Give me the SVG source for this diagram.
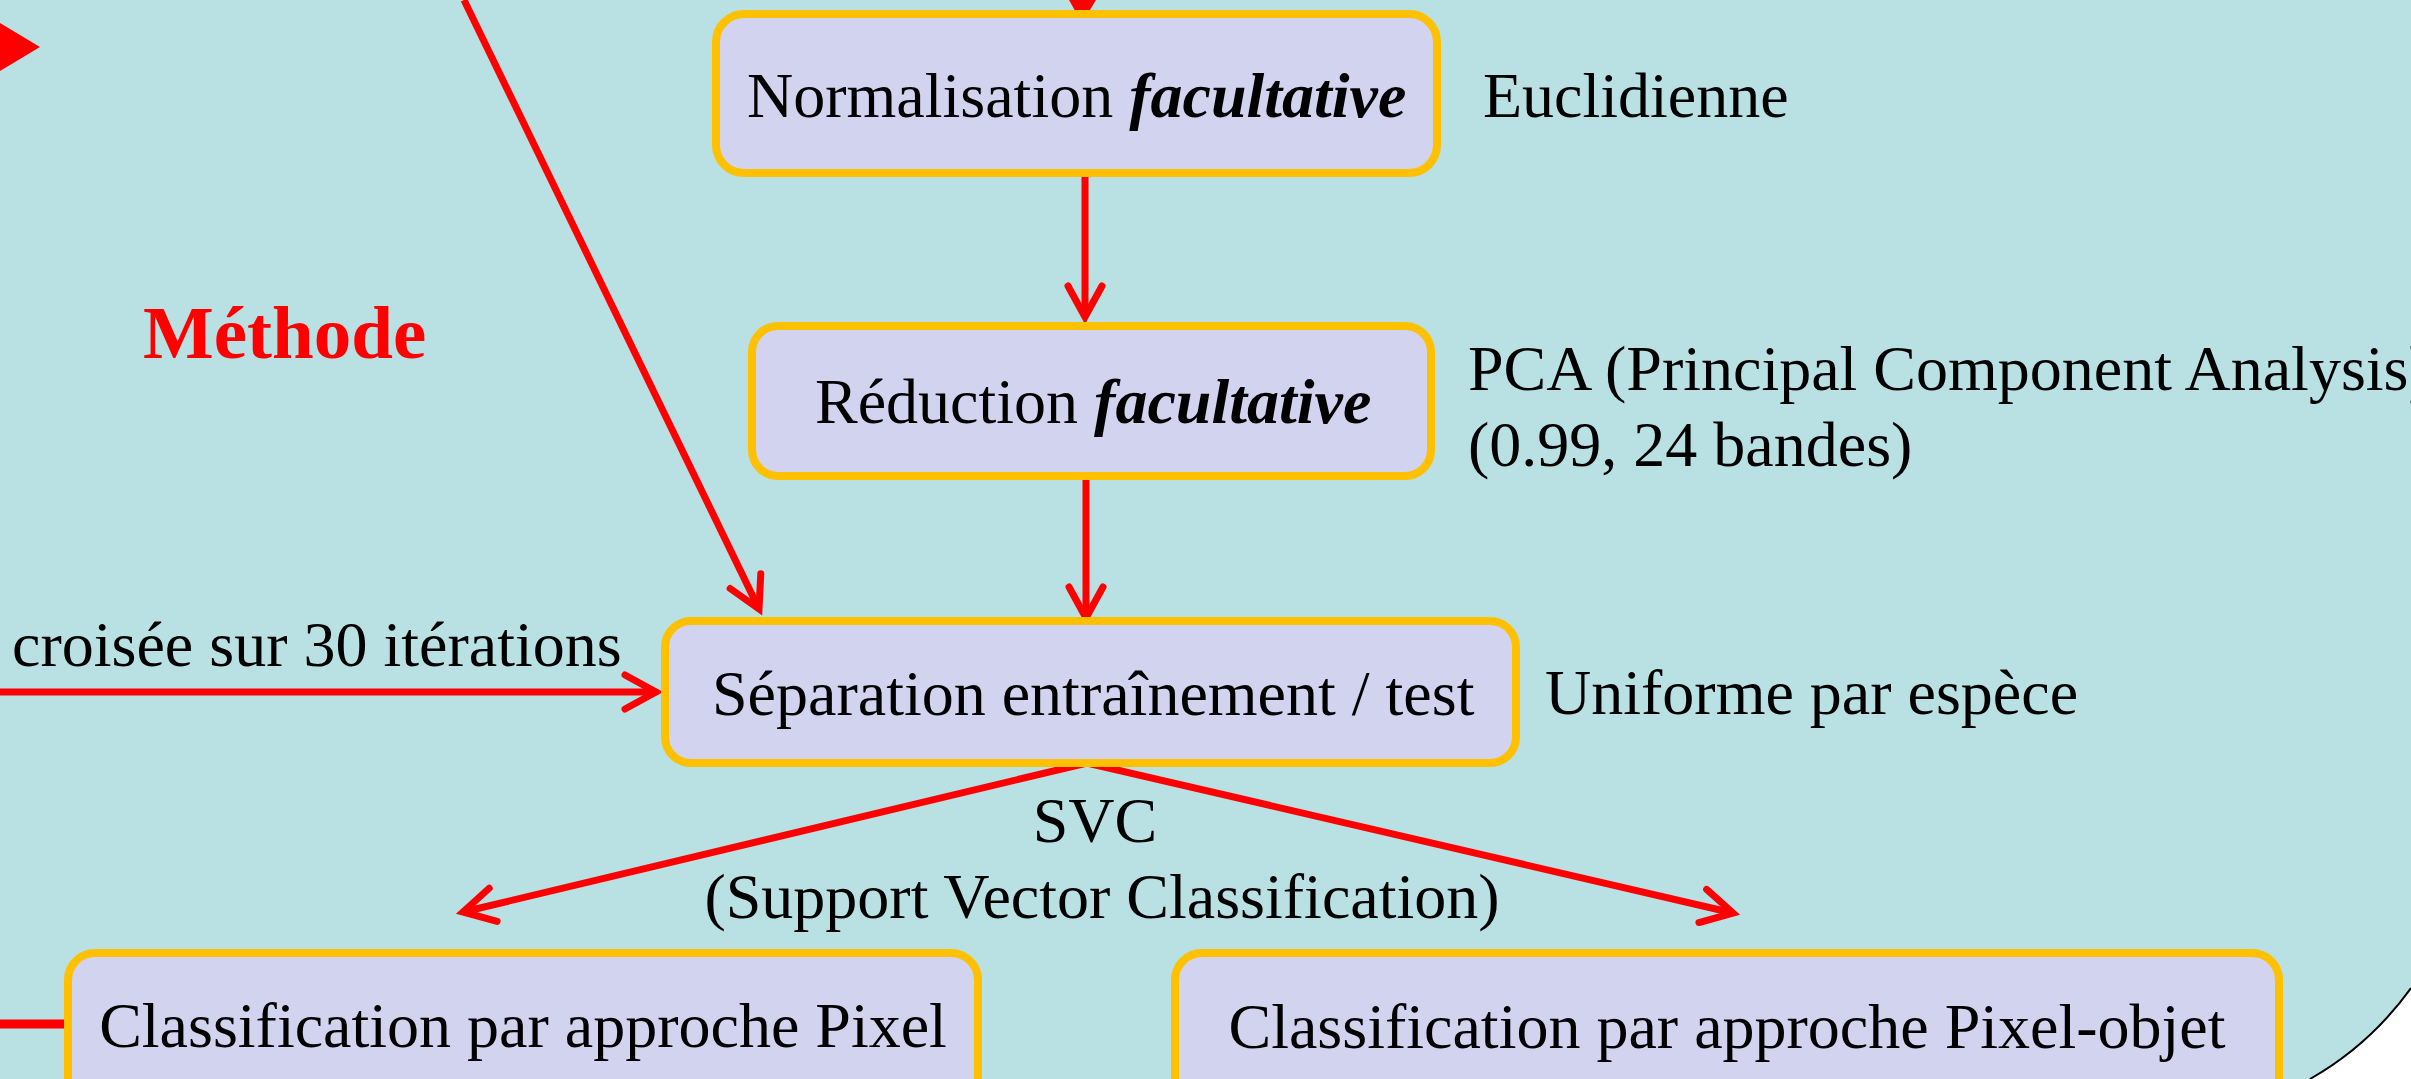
<svg xmlns="http://www.w3.org/2000/svg" width="2411" height="1079" viewBox="0 0 2411 1079">
<style>
.box{fill:#D1D3EF;stroke:#FFC000;stroke-width:8}
.t{font-family:"Liberation Serif","Times New Roman",serif;font-size:64px;fill:#000}
.bi{font-weight:bold;font-style:italic}
.c{stroke:#FF0000;stroke-width:7;fill:none}
</style>
<defs>
<marker id="ah" markerUnits="userSpaceOnUse" orient="auto" markerWidth="60" markerHeight="60" refX="0" refY="0" viewBox="-40 -30 60 60" overflow="visible">
<path d="M-31,-17 L0,0 L-31,17" fill="none" stroke="#FF0000" stroke-width="7" stroke-linecap="round" stroke-linejoin="miter"/>
</marker>
</defs>
<rect x="0" y="0" width="2411" height="1079" fill="#B9E0E3"/>
<path d="M2411,988 Q2370,1045 2310,1079 L2411,1079 Z" fill="#FFFFFF"/>
<path d="M2411,988 Q2370,1045 2310,1079" fill="none" stroke="#000" stroke-width="2"/>

<g id="connectors">
<polygon points="0,23 40,47 0,71" fill="#FF0000"/>
<polygon points="1069,0 1096,0 1082,23" fill="#FF0000"/>
<line class="c" x1="1085" y1="177" x2="1085" y2="317" marker-end="url(#ah)"/>
<line class="c" x1="1086" y1="480" x2="1086" y2="618" marker-end="url(#ah)"/>
<line class="c" x1="464" y1="0" x2="759" y2="609" marker-end="url(#ah)"/>
<line class="c" x1="0" y1="692" x2="656" y2="692" marker-end="url(#ah)"/>
<line class="c" x1="1087" y1="763" x2="463" y2="912" marker-end="url(#ah)"/>
<line class="c" x1="1087" y1="763" x2="1733" y2="913" marker-end="url(#ah)"/>
<line x1="0" y1="1024" x2="66" y2="1024" stroke="#FF0000" stroke-width="9"/>
</g>

<g id="methode"><text class="t" x="143" y="358" style="font-size:75px;font-weight:bold;fill:#FF0000">Méthode</text></g>

<g id="normalisation">
<rect class="box" x="716" y="14" width="721" height="159" rx="28"/>
<text class="t" x="747" y="117">Normalisation <tspan class="bi">facultative</tspan></text>
</g>
<g id="euclidienne"><text class="t" x="1483" y="117">Euclidienne</text></g>

<g id="reduction">
<rect class="box" x="752" y="326" width="679" height="150" rx="26"/>
<text class="t" x="815" y="423">Réduction <tspan class="bi">facultative</tspan></text>
</g>
<g id="pca">
<text class="t" x="1468" y="390">PCA (Principal Component Analysis)</text>
<text class="t" x="1468" y="466">(0.99, 24 bandes)</text>
</g>

<g id="separation">
<rect class="box" x="665" y="621" width="851" height="142" rx="26"/>
<text class="t" x="712" y="715">Séparation entraînement / test</text>
</g>
<g id="uniforme"><text class="t" x="1545" y="714">Uniforme par espèce</text></g>
<g id="croisee"><text class="t" x="12" y="666">croisée sur 30 itérations</text></g>

<g id="svc">
<text class="t" x="1095" y="842" text-anchor="middle">SVC</text>
<text class="t" x="1102" y="918" text-anchor="middle">(Support Vector Classification)</text>
</g>

<g id="pixel">
<rect class="box" x="68" y="953" width="910" height="200" rx="27"/>
<text class="t" x="523" y="1047" text-anchor="middle">Classification par approche Pixel</text>
</g>
<g id="pixelobjet">
<rect class="box" x="1175" y="953" width="1104" height="200" rx="27"/>
<text class="t" x="1727" y="1048" text-anchor="middle">Classification par approche Pixel-objet</text>
</g>
</svg>
